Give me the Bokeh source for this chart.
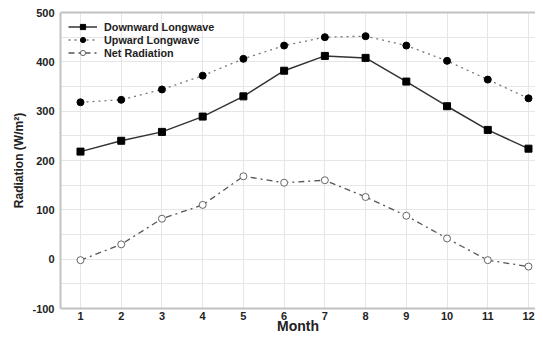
from bokeh.plotting import figure
from bokeh.models import Range1d, SingleIntervalTicker, FixedTicker, Legend, LegendItem, LinearAxis, PrintfTickFormatter
from bokeh.embed import file_html
from bokeh.resources import INLINE

months = [1, 2, 3, 4, 5, 6, 7, 8, 9, 10, 11, 12]
downward = [218, 240, 258, 289, 330, 382, 412, 408, 360, 310, 262, 224]
upward = [318, 323, 344, 372, 406, 433, 450, 452, 433, 402, 364, 326]
net_rad = [-2, 30, 82, 110, 168, 155, 160, 126, 88, 42, -2, -15]

FONT = "Liberation Sans"
AXC = "#c2c2c2"
GRIDC = "#e6e6e6"

p = figure(width=535, height=336, output_backend="svg", toolbar_location=None,
           x_range=Range1d(0.509, 12.172), y_range=Range1d(-100, 500),
           min_border_left=60, min_border_top=12, min_border_right=0, min_border_bottom=24)
p.outline_line_color = None
p.background_fill_color = "white"

p.xaxis.ticker = FixedTicker(ticks=months)
p.yaxis.ticker = SingleIntervalTicker(interval=100, num_minor_ticks=2)
p.yaxis.formatter = PrintfTickFormatter(format="%d")
p.xgrid.grid_line_color = GRIDC
p.ygrid.grid_line_color = GRIDC
p.ygrid.minor_grid_line_color = GRIDC

for ax in (p.xaxis, p.yaxis):
    ax.axis_line_color = AXC
    ax.axis_line_width = 2
    ax.major_tick_line_color = None
    ax.minor_tick_line_color = None
    ax.major_tick_out = 0
    ax.major_tick_in = 0
    ax.minor_tick_out = 0
    ax.minor_tick_in = 0
    ax.major_label_text_font = FONT
    ax.major_label_text_font_style = "bold"
    ax.major_label_text_font_size = "11px"
    ax.major_label_text_color = "#222222"
    ax.axis_label_text_font = FONT
    ax.axis_label_text_font_style = "bold"
    ax.axis_label_text_color = "#222222"

p.xaxis.axis_label = "Month"
p.xaxis.axis_label_text_font_size = "14px"
p.xaxis.major_label_standoff = 3
p.xaxis.axis_label_standoff = -5
p.yaxis.axis_label = "Radiation (W/m\u00b2)"
p.yaxis.axis_label_text_font_size = "12px"
p.yaxis.major_label_standoff = 6
p.yaxis.axis_label_standoff = 3

top_axis = LinearAxis(ticker=FixedTicker(ticks=[]), axis_line_color=AXC, axis_line_width=2,
                      major_tick_out=0, major_tick_in=0, minor_tick_out=0, minor_tick_in=0,
                      major_label_text_font_size="0px", major_label_standoff=0)
p.add_layout(top_axis, "above")

l1 = p.line(months, downward, line_color="#333333", line_width=1.5)
m1 = p.scatter(months, downward, marker="square", size=7, fill_color="black", line_color="black")
l2 = p.line(months, upward, line_color="#777777", line_width=1.3, line_dash="dotted")
m2 = p.scatter(months, upward, marker="circle", size=7, fill_color="black", line_color="black")
l3 = p.line(months, net_rad, line_color="#555555", line_width=1.3, line_dash="dashdot")
m3 = p.scatter(months, net_rad, marker="circle", size=7, fill_color="white", line_color="#666666", line_width=1)

legend = Legend(items=[
    LegendItem(label="Downward Longwave", renderers=[l1, m1]),
    LegendItem(label="Upward Longwave", renderers=[l2, m2]),
    LegendItem(label="Net Radiation", renderers=[l3, m3]),
], location="top_left")
legend.border_line_color = None
legend.background_fill_alpha = 0
legend.label_text_font = FONT
legend.label_text_font_style = "bold"
legend.label_text_font_size = "10.8px"
legend.label_text_color = "#222222"
legend.glyph_width = 29
legend.glyph_height = 13
legend.label_height = 13
legend.spacing = 0
legend.label_standoff = 7
legend.padding = 5
legend.margin = 8
p.add_layout(legend)

open("out.html", "w").write(file_html(p, INLINE))
